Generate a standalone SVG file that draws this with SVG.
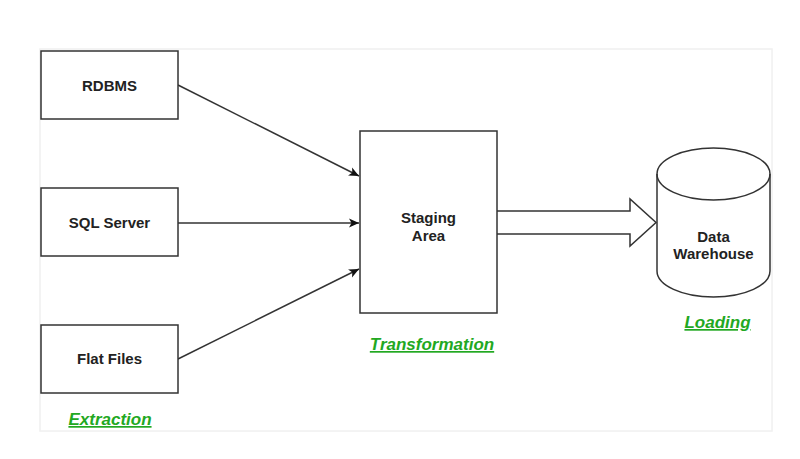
<svg xmlns="http://www.w3.org/2000/svg" width="800" height="459" viewBox="0 0 800 459">
<style>
.box{fill:#fff;stroke:#333;stroke-width:1.5}
.lbl{font-family:"Liberation Sans",Arial,sans-serif;font-weight:bold;font-size:15px;fill:#222;text-anchor:middle}
.stage{font-family:"Liberation Sans",Arial,sans-serif;font-weight:bold;font-style:italic;font-size:17px;fill:#22a822;text-anchor:middle;text-decoration:underline}
.conn{stroke:#333;stroke-width:1.5;fill:none}
</style>
<defs>
<marker id="ah" markerWidth="12" markerHeight="12" refX="10" refY="6" orient="auto" markerUnits="userSpaceOnUse">
<path d="M0,1.5 L10,6 L0,10.5 L2.5,6 Z" fill="#111"/>
</marker>
</defs>
<rect width="800" height="459" fill="#fff"/>
<rect x="40" y="49" width="732" height="382" fill="#fff" stroke="#f0f0f0" stroke-width="1.5"/>
<g id="connectors">
<line class="conn" x1="178" y1="85" x2="359" y2="176" marker-end="url(#ah)"/>
<line class="conn" x1="178" y1="223" x2="359" y2="223" marker-end="url(#ah)"/>
<line class="conn" x1="178" y1="359" x2="359" y2="269" marker-end="url(#ah)"/>
<path class="conn" d="M497,211 L630,211 L630,199 L656,222.5 L630,246 L630,234 L497,234" fill="#fff"/>
</g>
<g id="rdbms">
<rect class="box" x="41" y="51" width="137" height="68"/>
<text class="lbl" x="109.5" y="91">RDBMS</text>
</g>
<g id="sqlserver">
<rect class="box" x="41" y="188" width="137" height="68"/>
<text class="lbl" x="109.5" y="228">SQL Server</text>
</g>
<g id="flatfiles">
<rect class="box" x="41" y="325" width="137" height="68"/>
<text class="lbl" x="109.5" y="364">Flat Files</text>
</g>
<g id="staging">
<rect class="box" x="360" y="131" width="137" height="182"/>
<text class="lbl" x="428.5" y="223">Staging</text>
<text class="lbl" x="428.5" y="241">Area</text>
</g>
<g id="warehouse">
<path class="box" d="M657,174 A56.5,26 0 0 1 770,174 L770,271 A56.5,26 0 0 1 657,271 Z"/>
<path class="conn" d="M657,174 A56.5,26 0 0 0 770,174"/>
<text class="lbl" x="713.5" y="242">Data</text>
<text class="lbl" x="713.5" y="259">Warehouse</text>
</g>
<g id="labels">
<text class="stage" x="110" y="425">Extraction</text>
<text class="stage" x="432" y="350">Transformation</text>
<text class="stage" x="717.5" y="328">Loading</text>
</g>
</svg>
